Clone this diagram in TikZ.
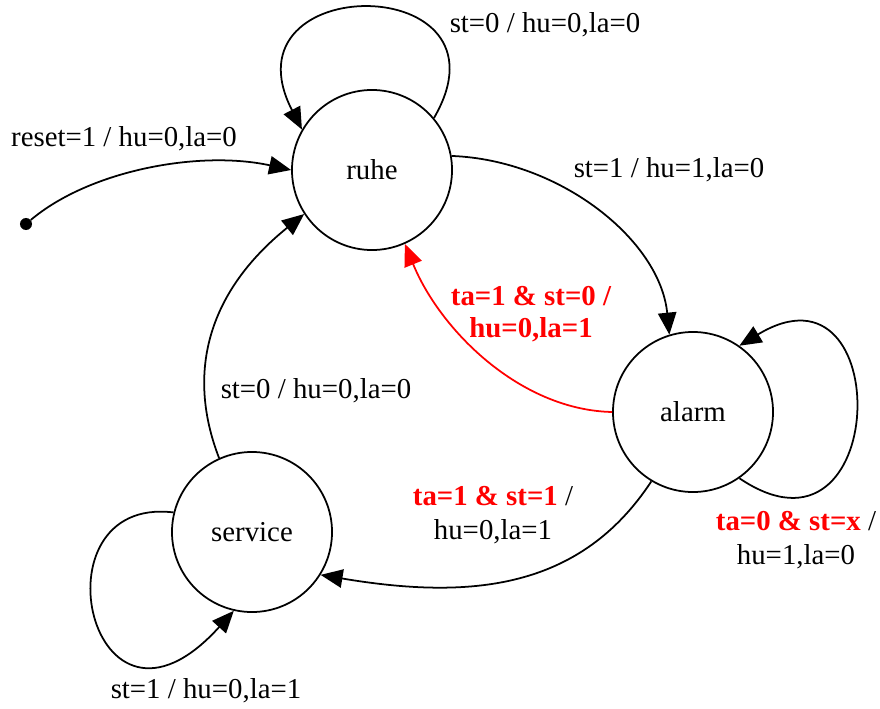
\documentclass[tikz,border=0pt]{standalone}
\usepackage{fontspec}
\setmainfont{Liberation Serif}
\usetikzlibrary{arrows.meta}
\tikzset{
%Define standard arrow tip
>={Triangle[length=5.5mm,width=4.6mm]},
%Define styles for states, transitions and labels
state/.style={draw, circle, line width=1.25pt, minimum size=4cm, inner sep=0pt},
trans/.style={->, line width=1.25pt},
lbl/.style={inner sep=0pt, align=center},
}

\begin{document}
\begin{tikzpicture}[x=0.025cm, y=-0.025cm,
  font=\fontsize{20.5}{24}\selectfont]

% fixed frame
\useasboundingbox (0,0) rectangle (880,709);

% states
\node[state] (ruhe) at (372,170) {ruhe};
\node[state] (alarm) at (693,412) {alarm};
\node[state] (service) at (252,532) {service};
\node[circle, fill, inner sep=0pt, minimum size=3mm] (start) at (26,224) {};

% reset
\draw[trans] (start) .. controls (90,170) and (200,150) .. (ruhe.west);
\node[lbl] (resetlbl) at (124,139) {reset=1 / hu=0,la=0};

% ruhe
\draw[trans] (ruhe.40) .. controls (520,-30) and (220,-30) .. (ruhe.150);
\node[lbl] (ruhelbl) at (545,25) {st=0 / hu=0,la=0};

\draw[trans] (ruhe.10) .. controls (560,160) and (660,240) .. (alarm.107);
\node[lbl] (alarmlbl) at (669,170) {st=1 / hu=1,la=0};

% alarm
\draw[trans, red] (alarm.west) .. controls (520,410) and (440,330) .. (ruhe.-66);
\node[lbl, red, font=\fontsize{20.5}{23}\selectfont\bfseries] (backlbl) at (531,314)
  {ta=1 \& st=0 /\\ hu=0,la=1};

\draw[trans] (alarm.-55) .. controls (890,580) and (897,250) .. (alarm.55);
\node[lbl] (holdlbl) at (796,540)
  {\textbf{\color{red}ta=0 \& st=x} /\\ hu=1,la=0};

\draw[trans] (alarm.-121) .. controls (580,590) and (470,600) .. (service.-32);
\node[lbl] (servlbl) at (493,515)
  {\textbf{\color{red}ta=1 \& st=1} /\\ hu=0,la=1};

% service
\draw[trans] (service.114) .. controls (185,370) and (210,290) .. (ruhe.-147);
\node[lbl] (retlbl) at (316,391) {st=0 / hu=0,la=0};

\draw[trans] (service.166) .. controls (30,495) and (90,770) .. (service.-103);
\node[lbl] (servlooplbl) at (206,691) {st=1 / hu=0,la=1};

\end{tikzpicture}
\end{document}
